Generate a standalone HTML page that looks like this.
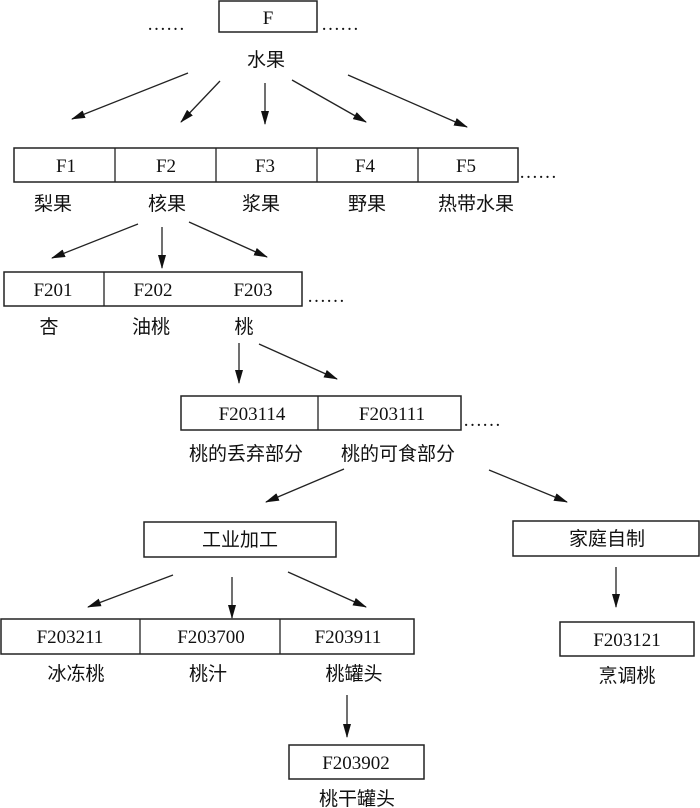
<!DOCTYPE html>
<html><head><meta charset="utf-8"><style>
html,body{margin:0;padding:0;background:#fff;}
svg{display:block;}
text{font-family:"Liberation Serif","Noto Serif CJK SC",serif;font-size:19px;fill:#111;}
.c{font-family:"Liberation Serif","Noto Sans CJK SC",sans-serif;font-size:19px;}
rect{fill:none;stroke:#222;stroke-width:1.5;}
line{stroke:#222;stroke-width:1.3;}
.a{marker-end:url(#ah);}
</style></head><body>
<svg width="700" height="808" viewBox="0 0 700 808" xmlns="http://www.w3.org/2000/svg">
<defs><marker id="ah" markerWidth="14" markerHeight="8" refX="13" refY="4" orient="auto" markerUnits="userSpaceOnUse"><path d="M0,0 L14,4 L0,8 z" fill="#111"/></marker></defs>
<g text-anchor="middle">
<!-- top -->
<rect x="219" y="1" width="98" height="31"/>
<text x="268" y="24">F</text>
<text x="166" y="30">……</text><text x="340" y="30">……</text>
<text class="c" x="266" y="66">水果</text>
<line class="a" x1="188" y1="73" x2="72" y2="119"/>
<line class="a" x1="220" y1="81" x2="181" y2="122"/>
<line class="a" x1="265" y1="83" x2="265" y2="124"/>
<line class="a" x1="292" y1="80" x2="366" y2="122"/>
<line class="a" x1="348" y1="75" x2="467" y2="127"/>
<!-- row 1 -->
<rect x="14" y="148" width="504" height="34"/>
<line x1="115" y1="148" x2="115" y2="182"/><line x1="216" y1="148" x2="216" y2="182"/><line x1="317" y1="148" x2="317" y2="182"/><line x1="418" y1="148" x2="418" y2="182"/>
<text x="66" y="172">F1</text><text x="166" y="172">F2</text><text x="265" y="172">F3</text><text x="365" y="172">F4</text><text x="466" y="172">F5</text>
<text x="538" y="178">……</text>
<text class="c" x="53" y="210">梨果</text><text class="c" x="167" y="210">核果</text><text class="c" x="261" y="210">浆果</text><text class="c" x="367" y="210">野果</text><text class="c" x="476" y="210">热带水果</text>
<line class="a" x1="138" y1="224" x2="52" y2="258"/>
<line class="a" x1="162" y1="227" x2="162" y2="268"/>
<line class="a" x1="189" y1="222" x2="267" y2="257"/>
<!-- row 2 -->
<rect x="4" y="272" width="298" height="34"/>
<line x1="104" y1="272" x2="104" y2="306"/>
<text x="53" y="296">F201</text><text x="153" y="296">F202</text><text x="253" y="296">F203</text>
<text x="326" y="302">……</text>
<text class="c" x="49" y="333">杏</text><text class="c" x="151" y="333">油桃</text><text class="c" x="244" y="333">桃</text>
<line class="a" x1="239" y1="343" x2="239" y2="383"/>
<line class="a" x1="259" y1="344" x2="337" y2="379"/>
<!-- row 3 -->
<rect x="181" y="396" width="280" height="34"/>
<line x1="318" y1="396" x2="318" y2="430"/>
<text x="252" y="420">F203114</text><text x="392" y="420">F203111</text>
<text x="482" y="426">……</text>
<text class="c" x="246" y="460">桃的丢弃部分</text><text class="c" x="398" y="460">桃的可食部分</text>
<line class="a" x1="344" y1="469" x2="266" y2="502"/>
<line class="a" x1="489" y1="470" x2="567" y2="502"/>
<rect x="144" y="522" width="192" height="35"/>
<text class="c" x="240" y="546">工业加工</text>
<rect x="513" y="521" width="186" height="35"/>
<text class="c" x="607" y="545">家庭自制</text>
<line class="a" x1="173" y1="575" x2="88" y2="607"/>
<line class="a" x1="232" y1="577" x2="232" y2="618"/>
<line class="a" x1="288" y1="572" x2="366" y2="607"/>
<line class="a" x1="616" y1="567" x2="616" y2="607"/>
<!-- row 4 -->
<rect x="1" y="619" width="413" height="35"/>
<line x1="140" y1="619" x2="140" y2="654"/><line x1="280" y1="619" x2="280" y2="654"/>
<text x="70" y="643">F203211</text><text x="211" y="643">F203700</text><text x="348" y="643">F203911</text>
<text class="c" x="76" y="680">冰冻桃</text><text class="c" x="208" y="680">桃汁</text><text class="c" x="354" y="680">桃罐头</text>
<rect x="560" y="622" width="134" height="34"/>
<text x="627" y="646">F203121</text>
<text class="c" x="627" y="682">烹调桃</text>
<line class="a" x1="347" y1="695" x2="347" y2="737"/>
<rect x="289" y="745" width="135" height="34"/>
<text x="356" y="769">F203902</text>
<text class="c" x="357" y="805">桃干罐头</text>
</g>
</svg>
</body></html>
